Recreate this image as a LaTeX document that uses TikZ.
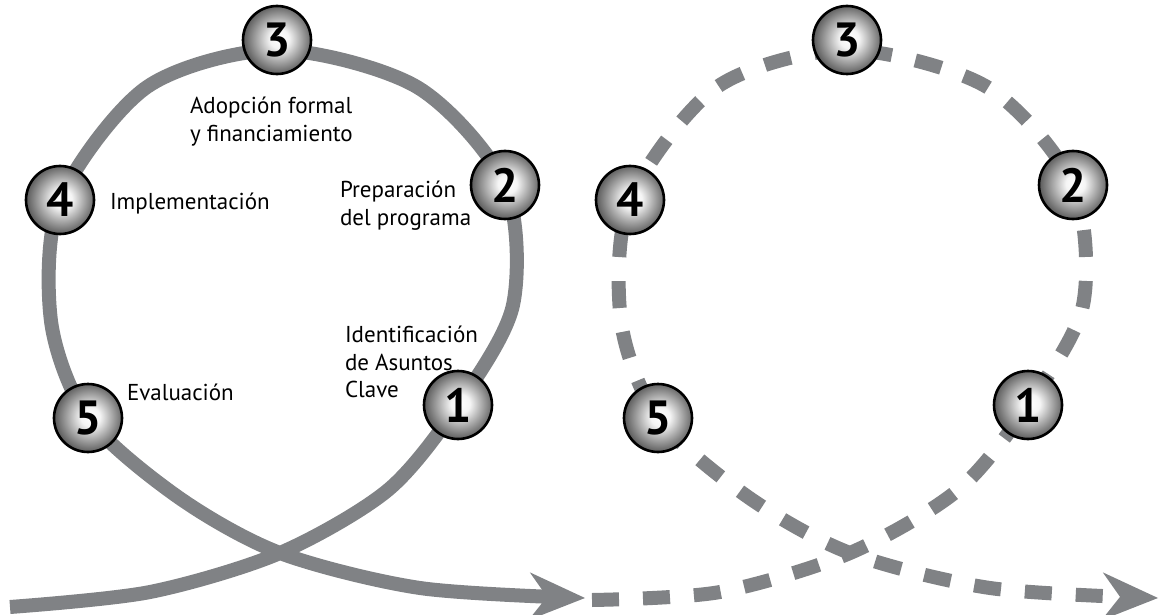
\documentclass[tikz,border=0pt]{standalone}
\usepackage{fontspec}
\setmainfont{PT Sans}
\usepackage{tikz}
\usetikzlibrary{arrows.meta,backgrounds}
\pgfdeclareradialshading{stageball}{\pgfpoint{2bp}{1bp}}{color(0bp)=(white); color(7bp)=(white!96!black);
  color(15bp)=(black!30); color(25bp)=(black!62); color(50bp)=(black!62)}

\begin{document}
\begin{tikzpicture}[x=1pt,y=-1pt,
    stage/.style={circle, minimum size=68pt, inner sep=0pt, draw=black, line width=2.6pt,
      shading=stageball, text=black,
      font=\bfseries\fontsize{48}{48}\selectfont},
    lbl/.style={inner sep=0pt, outer sep=0pt, text=black, align=left,
      font=\fontsize{23}{27.5}\selectfont},
    loopline/.style={draw=custcol_80_82_85, line width=14pt, line cap=butt,
      -{Stealth[length=56pt, width=48pt, inset=18pt, line width=0pt]}},
    looplinedash/.style={loopline, dash pattern=on 27pt off 24pt}]
	\definecolor{custcol_80_82_85}{RGB}{128, 130, 133}
	\useasboundingbox (0,0) rectangle (1161,615);
	% left loop
	\node[stage] (n3A) at (277,40) {3};
	\node[stage] (n2A) at (505,185) {2};
	\node[stage] (n4A) at (60,200) {4};
	\node[stage] (n5A) at (88,418) {5};
	\node[stage] (n1A) at (458,405) {1};
	\node[lbl, anchor=north west] (tAdopt) at (190,97) {Adopción formal\\y financiamiento};
	\node[lbl, anchor=base west] (tImpl) at (110,209) {Implementación};
	\node[lbl, anchor=north west] (tPrep) at (340,181) {Preparación\\del programa};
	\node[lbl, anchor=north west] (tIdent) at (345,326) {Identificación\\de Asuntos\\Clave};
	\node[lbl, anchor=base west] (tEval) at (127,400) {Evaluación};
	% right loop
	\node[stage] (n3B) at (847,40) {3};
	\node[stage] (n2B) at (1073,185) {2};
	\node[stage] (n4B) at (630,200) {4};
	\node[stage] (n5B) at (658,418) {5};
	\node[stage] (n1B) at (1028,405) {1};
	\coordinate (startA) at (10,607);
	\coordinate (crossA) at (280,553);
	\coordinate (endA) at (585,598);
	\coordinate (startB) at (592,600);
	\coordinate (crossB) at (850,553);
	\coordinate (endB) at (1158,598);
	\begin{scope}[on background layer]
		\draw[loopline] plot[smooth] coordinates {(startA) (150,592) (crossA) (388,490) (n1A.center)
			(513,305) (n2A.center) (417,87) (277,50) (147,87) (n4A.center) (51,321) (n5A.center)
			(178,497) (crossA) (420,588) (endA)};
		\draw[looplinedash] plot[smooth] coordinates {(startB) (720,592) (crossB) (958,490) (n1B.center)
			(1083,305) (n2B.center) (987,87) (847,50) (717,87) (n4B.center) (621,321) (n5B.center)
			(748,497) (crossB) (990,588) (endB)};
	\end{scope}
\end{tikzpicture}
\end{document}
